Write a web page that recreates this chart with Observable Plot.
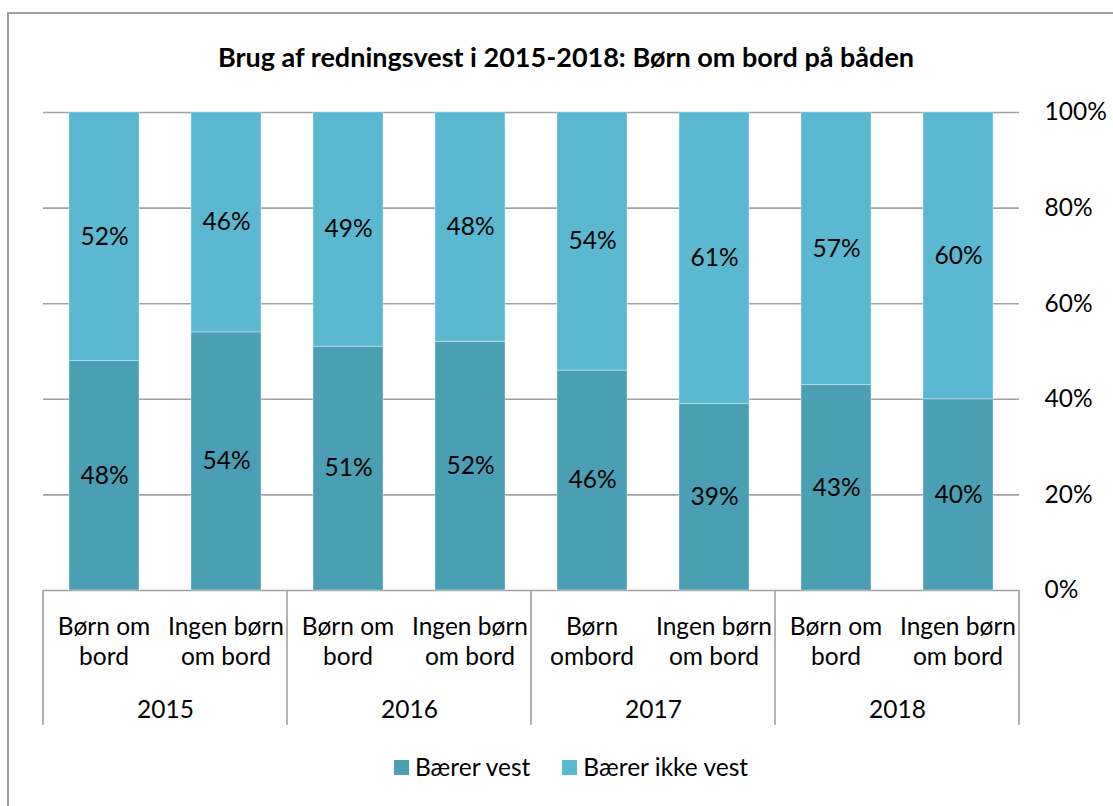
<!DOCTYPE html>
<html>
<head>
<meta charset="utf-8">
<script src="https://cdn.jsdelivr.net/npm/d3@7"></script>
<script src="https://cdn.jsdelivr.net/npm/@observablehq/plot@0.6"></script>
<style>
  html, body { margin: 0; padding: 0; background: #fff; }
  body { width: 1113px; height: 806px; overflow: hidden; position: relative; font-family: Lato, "Open Sans", sans-serif; }
  #frame { position: absolute; left: 7px; top: 12px; width: 1120px; height: 820px; border: 2px solid #a0a0a0; box-sizing: border-box; }
  #title { position: absolute; left: 0; top: 41px; width: 1132px; text-align: center; font-weight: bold; font-size: 27px; line-height: 32px; color: #000; }
  #chart { position: absolute; left: 0; top: 0; }
  #legend { position: absolute; top: 752px; left: 0; width: 1142px; display: flex; justify-content: center; gap: 32px; font-size: 24.5px; line-height: 30px; color: #000; }
  .item { display: flex; align-items: center; gap: 6px; }
  .sw { width: 15px; height: 15px; display: inline-block; }
</style>
</head>
<body>
<div id="frame"></div>
<div id="title">Brug af redningsvest i 2015-2018: Børn om bord på båden</div>
<div id="chart"></div>
<div id="legend"></div>
<script>
const years = ["2015", "2016", "2017", "2018"];
const groups = ["a", "b"];
const groupLabels = {
  "2015": ["Børn om\nbord", "Ingen børn\nom bord"],
  "2016": ["Børn om\nbord", "Ingen børn\nom bord"],
  "2017": ["Børn\nombord", "Ingen børn\nom bord"],
  "2018": ["Børn om\nbord", "Ingen børn\nom bord"]
};
const series = ["Bærer vest", "Bærer ikke vest"];
const colors = ["#4a9fb4", "#5bb8d1"];
const baererVest = [48, 54, 51, 52, 46, 39, 43, 40];
const baererIkkeVest = [52, 46, 49, 48, 54, 61, 57, 60];
const yTicks = [0, 20, 40, 60, 80, 100];

const data = [];
[baererVest, baererIkkeVest].forEach((vals, si) => {
  vals.forEach((v, i) => {
    const year = years[Math.floor(i / 2)];
    const g = groups[i % 2];
    data.push({year, group: g, series: series[si], value: v});
  });
});

const FS = 24.5;
const W = 1113, H = 745;
const mL = 42, mR = 93, mT = 112, mB = H - 590;

const plot = Plot.plot({
  width: W,
  height: H,
  marginLeft: mL,
  marginRight: mR,
  marginTop: mT,
  marginBottom: mB,
  style: {fontFamily: "Lato, 'Open Sans', sans-serif", fontSize: FS + "px", color: "#000", background: "transparent", overflow: "visible"},
  fx: {domain: years, padding: 0, label: null},
  x: {domain: groups, paddingInner: 0.43, paddingOuter: 0.215, label: null, axis: null},
  y: {domain: [0, 100], label: null},
  color: {domain: series, range: colors},
  marks: [
    Plot.gridY(yTicks, {stroke: "#a0a0a0", strokeOpacity: 1, strokeWidth: 1.6}),
    Plot.barY(data, {fx: "year", x: "group", y: "value", fill: "series", stroke: "#ffffff", strokeOpacity: 0.35, strokeWidth: 1}),
    Plot.text(data, Plot.stackY({fx: "year", x: "group", y: "value", z: "series", text: d => d.value + "%", fill: "#000", fontSize: FS})),
    Plot.axisY({anchor: "right", ticks: yTicks, tickSize: 0, tickPadding: 25, tickFormat: d => d + "%", fontSize: FS, textAnchor: "start", label: null}),
    Plot.axisFx({anchor: "bottom", tickSize: 0, tickPadding: 110, fontSize: FS, label: null})
  ]
});

document.getElementById("chart").appendChild(plot);

const svg = d3.select(plot);
const fx = plot.scale("fx");
const x = plot.scale("x");
const x0 = x.range[0];

// category labels under each bar, built from the scales
const gLab = svg.append("g").attr("font-size", FS).attr("text-anchor", "middle").attr("fill", "#000");
years.forEach(yr => {
  const fxStart = fx.apply(yr);
  groups.forEach((g, gi) => {
    const cx = fxStart + (x.apply(g) - x0) + x.bandwidth / 2;
    const lines = groupLabels[yr][gi].split("\n");
    const t = gLab.append("text").attr("transform", `translate(${cx},${590 + 45})`);
    lines.forEach((ln, li) => t.append("tspan").attr("x", 0).attr("dy", li === 0 ? 0 : 30).text(ln));
  });
});

// group separators at facet edges
const edges = years.map(yr => fx.apply(yr)).concat([fx.apply(years[years.length - 1]) + fx.bandwidth]);
svg.append("g").attr("stroke", "#a0a0a0").attr("stroke-width", 1.6)
  .selectAll("line").data(edges).join("line")
  .attr("x1", d => d).attr("x2", d => d).attr("y1", 590).attr("y2", 725);

// legend
const leg = document.getElementById("legend");
series.forEach((s, i) => {
  const it = document.createElement("div");
  it.className = "item";
  it.innerHTML = `<span class="sw" style="background:${colors[i]}"></span><span>${s}</span>`;
  leg.appendChild(it);
});
</script>
</body>
</html>
